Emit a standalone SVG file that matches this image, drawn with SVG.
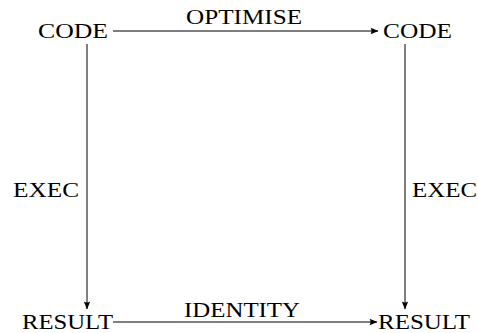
<svg xmlns="http://www.w3.org/2000/svg" width="478" height="333" viewBox="0 0 478 333">
<style>
text{font-family:"Liberation Serif","Times New Roman",serif;font-size:22px;fill:#000}
.c{stroke:#000;stroke-width:1;fill:none}
</style>
<defs>
<marker id="ah" markerUnits="userSpaceOnUse" markerWidth="12" markerHeight="10" viewBox="-10 -5 12 10" refX="0" refY="0" orient="auto">
<path d="M0.5,0 L-7.5,-3.2 Q-5.5,0 -7.5,3.2 Z" fill="#000"/>
</marker>
</defs>
<rect width="478" height="333" fill="#fff"/>
<g id="connectors">
<path class="c" d="M113,31 H378" marker-end="url(#ah)"/>
<path class="c" d="M87,44 V309" marker-end="url(#ah)"/>
<path class="c" d="M405,44 V309" marker-end="url(#ah)"/>
<path class="c" d="M113,322 H377" marker-end="url(#ah)"/>
<text x="186" y="24" textLength="116" lengthAdjust="spacingAndGlyphs">OPTIMISE</text>
<text x="184" y="317" textLength="116" lengthAdjust="spacingAndGlyphs">IDENTITY</text>
<text x="13" y="197" textLength="66" lengthAdjust="spacingAndGlyphs">EXEC</text>
<text x="412" y="197" textLength="65" lengthAdjust="spacingAndGlyphs">EXEC</text>
</g>
<g id="code-left"><text x="38" y="38" textLength="70" lengthAdjust="spacingAndGlyphs">CODE</text></g>
<g id="code-right"><text x="383" y="38" textLength="69" lengthAdjust="spacingAndGlyphs">CODE</text></g>
<g id="result-left"><text x="22" y="329" textLength="91" lengthAdjust="spacingAndGlyphs">RESULT</text></g>
<g id="result-right"><text x="378" y="329" textLength="92" lengthAdjust="spacingAndGlyphs">RESULT</text></g>
</svg>
